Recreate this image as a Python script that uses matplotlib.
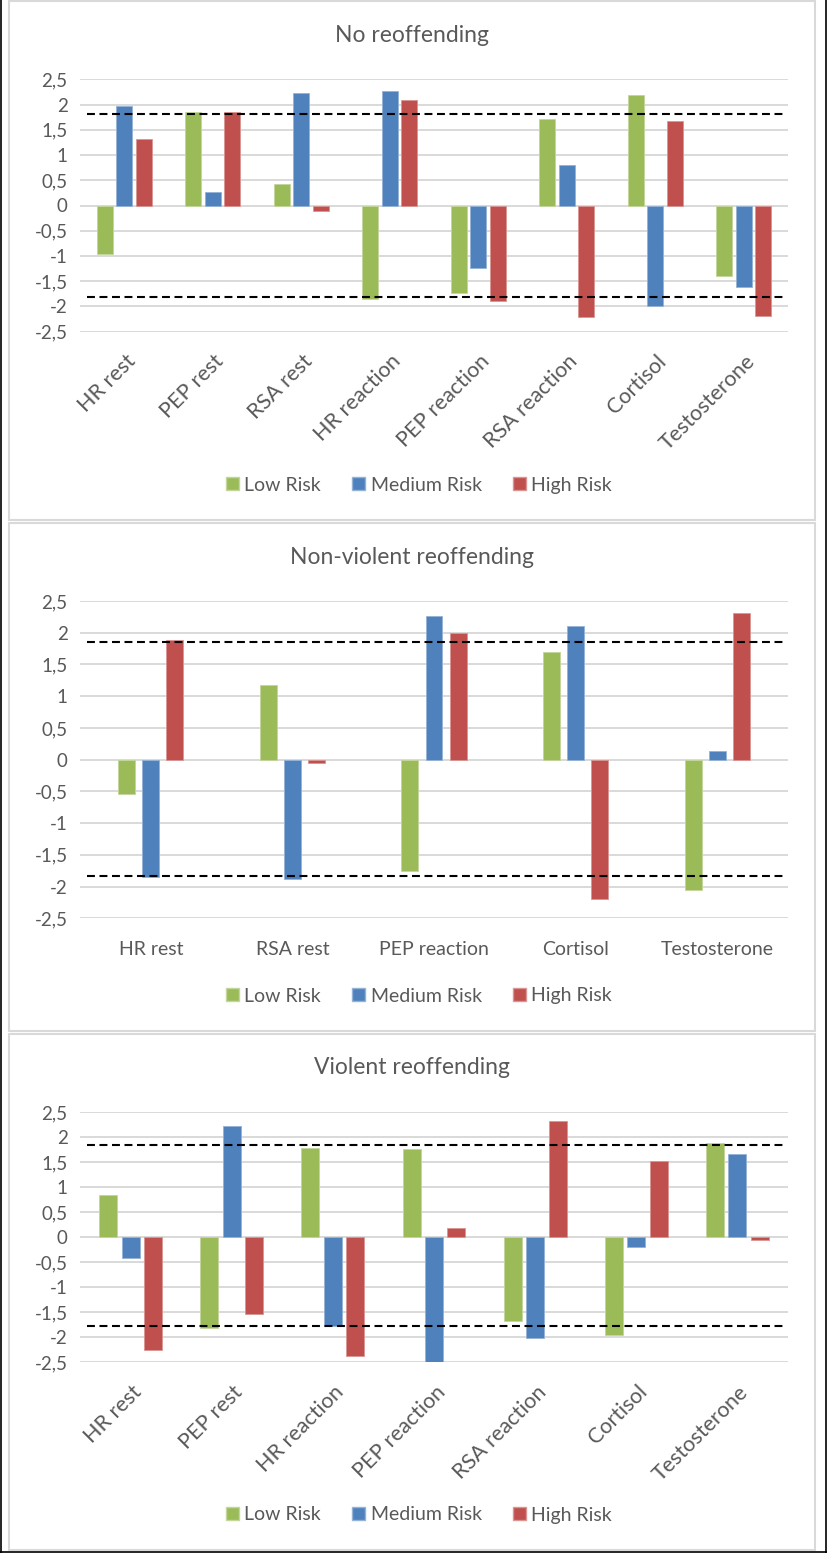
import numpy as np
import matplotlib
matplotlib.use('Agg')
import matplotlib.pyplot as plt
import matplotlib.transforms as mtransforms
from matplotlib.patches import Patch, Rectangle
from matplotlib.lines import Line2D

plt.rcParams['font.family'] = ['Lato', 'DejaVu Sans']

# Datos
series_names = ['Low Risk', 'Medium Risk', 'High Risk']

labels_no = ['HR rest', 'PEP rest', 'RSA rest', 'HR reaction', 'PEP reaction',
             'RSA reaction', 'Cortisol', 'Testosterone']
low_no = [-0.97, 1.85, 0.42, -1.86, -1.73, 1.72, 2.19, -1.40]
med_no = [1.98, 0.26, 2.22, 2.27, -1.23, 0.81, -2.00, -1.61]
high_no = [1.32, 1.85, -0.11, 2.09, -1.89, -2.20, 1.67, -2.18]
cut_no = [1.81, -1.81]

labels_nv = ['HR rest', 'RSA rest', 'PEP reaction', 'Cortisol', 'Testosterone']
low_nv = [-0.54, 1.17, -1.76, 1.70, -2.05]
med_nv = [-1.85, -1.88, 2.27, 2.10, 0.13]
high_nv = [1.89, -0.05, 2.00, -2.20, 2.31]
cut_nv = [1.85, -1.84]

labels_v = ['HR rest', 'PEP rest', 'HR reaction', 'PEP reaction', 'RSA reaction',
            'Cortisol', 'Testosterone']
low_v = [0.84, -1.81, 1.79, 1.76, -1.67, -1.96, 1.88]
med_v = [-0.41, 2.23, -1.77, -2.49, -2.01, -0.20, 1.66]
high_v = [-2.25, -1.53, -2.38, 0.19, 2.32, 1.52, -0.05]
cut_v = [1.85, -1.78]

yticks = [-2.5, -2, -1.5, -1, -0.5, 0, 0.5, 1, 1.5, 2, 2.5]

colors = ['#9BBB59', '#4F81BD', '#C0504D']
edges = ['#C3D69B', '#95B3D7', '#D99694']
grid_c = '#D9D9D9'
text_c = '#595959'

W, H = 827, 1553
fig = plt.figure(figsize=(W / 100, H / 100), dpi=100)


def fmt(v):
    s = ('%g' % v).replace('.', ',')
    return s


def panel(top, bottom, title, title_y, legend_y, labels, data, cuts, width, step, rotated):
    ax = fig.add_axes([80 / W, 1 - bottom / H, 708 / W, (bottom - top) / H])
    x = np.arange(len(labels))
    for i, vals in enumerate(data):
        ax.bar(x + (i - 1) * step, vals, width, color=colors[i], edgecolor=edges[i],
               linewidth=0.6, zorder=2)
    # lineas de referencia
    for c in cuts:
        ax.axhline(c, xmin=0.01, xmax=0.995, color='black', lw=1.5,
                   dashes=(3.8, 2.2), zorder=3)
    ax.set_xlim(-0.5, len(labels) - 0.5)
    ax.set_ylim(-2.5, 2.5)
    ax.set_yticks(yticks)
    ax.set_yticklabels([fmt(t) for t in yticks])
    ax.yaxis.grid(True, color=grid_c, lw=1.4, zorder=0)
    ax.set_axisbelow(True)
    for s in ax.spines.values():
        s.set_visible(False)
    ax.tick_params(axis='both', length=0, labelsize=13.5, labelcolor=text_c)
    ax.tick_params(axis='y', pad=9)
    ax.set_xticks(x)
    if rotated:
        ax.set_xticklabels(labels, rotation=45, ha='right', va='center',
                           rotation_mode='anchor')
        ax.tick_params(axis='x', pad=17, labelsize=15.5)
        shift = mtransforms.ScaledTranslation(0.08, -0.03, fig.dpi_scale_trans)
        for lab in ax.get_xticklabels():
            lab.set_transform(lab.get_transform() + shift)
    else:
        ax.set_xticklabels(labels)
        ax.tick_params(axis='x', pad=16, labelsize=14)
    fig.text(412 / W, 1 - title_y / H, title, ha='center', va='center',
             fontsize=16.5, color=text_c)
    handles = [Patch(facecolor=colors[i], edgecolor=edges[i], label=series_names[i])
               for i in range(3)]
    fig.legend(handles=handles, loc='center', bbox_to_anchor=(419 / W, 1 - legend_y / H),
               ncol=3, frameon=False, fontsize=14, labelcolor=text_c,
               handlelength=0.65, handleheight=0.65, handletextpad=0.3,
               columnspacing=1.6)
    return ax


panel(79.3, 331.7, 'No reoffending', 35, 485, labels_no,
      [low_no, med_no, high_no], cut_no, 0.18, 0.22, True)
panel(601, 918.3, 'Non-violent reoffending', 557, 996, labels_nv,
      [low_nv, med_nv, high_nv], cut_nv, 0.12, 0.17, False)
panel(1112.3, 1362.3, 'Violent reoffending', 1068, 1515, labels_v,
      [low_v, med_v, high_v], cut_v, 0.178, 0.222, True)

# marcos de cada grafico
for y0, y1 in [(1, 520), (523, 1031), (1034, 1550)]:
    fig.add_artist(Rectangle((9 / W, 1 - y1 / H), 806 / W, (y1 - y0) / H,
                             transform=fig.transFigure, fill=False,
                             edgecolor=grid_c, lw=1.5))
# borde exterior
for xs, ys in [([0.5, 0.5], [0, H]), ([W - 0.8, W - 0.8], [0, H]), ([0, W], [H - 0.8, H - 0.8])]:
    fig.add_artist(Line2D([v / W for v in xs], [1 - v / H for v in ys],
                          transform=fig.transFigure, color='black', lw=1.2))

fig.savefig('out.png', dpi=100)
